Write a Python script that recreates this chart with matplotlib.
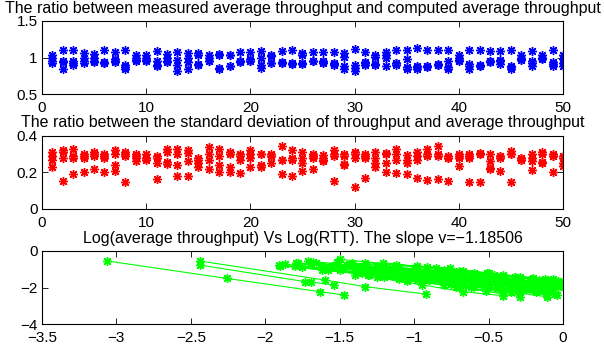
import numpy as np
import matplotlib
matplotlib.use("Agg")
import matplotlib.pyplot as plt

plt.rcParams['font.family'] = ['Liberation Sans', 'DejaVu Sans']

runs = np.arange(1, 51)

# measured / computed average throughput, 4 flows per run
ratio_avg = [
    [1.03, 1.00, 0.96, 0.93], [1.10, 0.96, 0.94, 0.85], [1.10, 0.95, 0.92, 0.90],
    [1.06, 0.99, 0.95, 0.92], [1.05, 1.00, 0.96, 0.94], [1.11, 0.94, 0.93, 0.92],
    [1.07, 0.98, 0.95, 0.94], [1.11, 0.90, 0.87, 0.84], [1.03, 1.00, 0.97, 0.95],
    [1.03, 1.00, 0.97, 0.96], [1.09, 0.95, 0.90, 0.88], [1.05, 1.00, 0.96, 0.94],
    [1.07, 0.97, 0.90, 0.82], [1.06, 0.99, 0.94, 0.85], [1.06, 1.04, 0.91, 0.90],
    [1.03, 1.00, 0.96, 0.95], [1.05, 1.04, 0.86, 0.85], [1.04, 1.03, 0.89, 0.89],
    [1.08, 0.96, 0.95, 0.94], [1.07, 0.98, 0.96, 0.95], [1.09, 1.00, 0.90, 0.86],
    [1.04, 1.02, 0.93, 0.92], [1.09, 0.94, 0.93, 0.92], [1.11, 0.92, 0.91, 0.91],
    [1.06, 1.03, 0.92, 0.91], [1.08, 0.96, 0.95, 0.95], [1.08, 0.95, 0.94, 0.93],
    [1.08, 0.92, 0.91, 0.90], [1.06, 1.01, 0.89, 0.85], [1.12, 0.90, 0.86, 0.82],
    [1.08, 0.94, 0.92, 0.90], [1.04, 1.01, 0.91, 0.90], [1.08, 1.03, 0.99, 0.89],
    [1.10, 0.93, 0.92, 0.90], [1.10, 0.98, 0.87, 0.85], [1.13, 0.88, 0.87, 0.85],
    [1.11, 0.89, 0.88, 0.87], [1.10, 0.91, 0.90, 0.90], [1.11, 0.95, 0.87, 0.85],
    [1.04, 0.99, 0.97, 0.95], [1.10, 0.91, 0.88, 0.85], [1.10, 0.90, 0.89, 0.89],
    [1.09, 0.96, 0.95, 0.94], [1.09, 0.97, 0.95, 0.91], [1.11, 0.89, 0.87, 0.85],
    [1.04, 1.00, 0.98, 0.97], [1.09, 0.96, 0.93, 0.89], [1.03, 1.00, 0.99, 0.98],
    [1.10, 0.94, 0.91, 0.89], [1.04, 0.98, 0.92, 0.89],
]

# std of throughput / average throughput
ratio_std = [
    [0.31, 0.29, 0.27, 0.23], [0.32, 0.31, 0.28, 0.155], [0.33, 0.29, 0.28, 0.19],
    [0.30, 0.29, 0.28, 0.20], [0.31, 0.30, 0.29, 0.22], [0.30, 0.29, 0.28, 0.20],
    [0.32, 0.30, 0.24, 0.21], [0.31, 0.30, 0.29, 0.15], [0.30, 0.29, 0.28, 0.26],
    [0.30, 0.28, 0.28, 0.27], [0.29, 0.28, 0.25, 0.165], [0.33, 0.31, 0.255, 0.245],
    [0.33, 0.30, 0.24, 0.18], [0.32, 0.305, 0.26, 0.18], [0.28, 0.27, 0.25, 0.23],
    [0.34, 0.30, 0.27, 0.22], [0.33, 0.29, 0.24, 0.20], [0.31, 0.30, 0.23, 0.20],
    [0.30, 0.29, 0.27, 0.195], [0.32, 0.30, 0.28, 0.23], [0.30, 0.30, 0.24, 0.23],
    [0.30, 0.29, 0.29, 0.25], [0.345, 0.27, 0.265, 0.19], [0.32, 0.28, 0.27, 0.18],
    [0.31, 0.28, 0.25, 0.21], [0.30, 0.29, 0.28, 0.22], [0.295, 0.28, 0.27, 0.26],
    [0.32, 0.30, 0.29, 0.155], [0.30, 0.29, 0.245, 0.24], [0.31, 0.30, 0.28, 0.12],
    [0.30, 0.29, 0.28, 0.17], [0.31, 0.28, 0.25, 0.23], [0.305, 0.30, 0.25, 0.20],
    [0.33, 0.30, 0.27, 0.195], [0.295, 0.27, 0.25, 0.19], [0.31, 0.29, 0.27, 0.17],
    [0.33, 0.30, 0.29, 0.16], [0.345, 0.30, 0.29, 0.165], [0.29, 0.28, 0.28, 0.155],
    [0.30, 0.28, 0.29, 0.235], [0.30, 0.28, 0.29, 0.145], [0.305, 0.30, 0.30, 0.15],
    [0.30, 0.26, 0.225, 0.22], [0.29, 0.28, 0.29, 0.21], [0.315, 0.30, 0.30, 0.145],
    [0.28, 0.27, 0.28, 0.27], [0.30, 0.28, 0.26, 0.215], [0.31, 0.30, 0.255, 0.25],
    [0.30, 0.29, 0.29, 0.20], [0.29, 0.28, 0.25, 0.235],
]

# log(RTT) and log(average throughput), one row per run (4 flows)
log_rtt = [
    [-3.06, -2.26, -1.63, -1.47], [-2.44, -1.60, -1.33, -0.92], [-2.44, -1.73, -1.69, -1.54],
    [-1.91, -1.35, -0.80, -0.10], [-1.90, -1.62, -0.95, -0.30], [-1.79, -1.10, -0.55, -0.08],
    [-1.71, -1.25, -0.70, -0.20], [-1.66, -1.05, -0.45, -0.03], [-1.50, -0.98, -0.51, -0.07],
    [-1.42, -0.91, -0.32, -0.15], [-1.33, -0.76, -0.40, -0.12], [-1.21, -0.85, -0.46, -0.21],
    [-1.12, -0.70, -0.32, -0.02], [-1.80, -1.31, -0.75, -0.29], [-1.75, -1.20, -0.60, -0.11],
    [-1.60, -1.05, -0.67, -0.29], [-1.55, -1.10, -0.50, -0.35], [-1.45, -0.95, -0.48, -0.05],
    [-1.38, -0.88, -0.38, -0.10], [-1.30, -0.82, -0.35, -0.20], [-1.25, -0.80, -0.30, -0.02],
    [-1.15, -0.72, -0.30, -0.09], [-1.05, -0.60, -0.29, -0.11], [-1.00, -0.55, -0.22, -0.08],
    [-0.98, -0.67, -0.29, -0.11], [-0.91, -0.50, -0.20, -0.03], [-1.70, -1.28, -0.67, -0.21],
    [-1.62, -1.00, -0.58, -0.15], [-1.48, -1.02, -0.53, -0.18], [-1.36, -0.90, -0.44, -0.30],
    [-1.10, -0.80, -0.52, -0.29], [-0.90, -0.62, -0.35, -0.11], [-1.25, -0.95, -0.67, -0.40],
    [-0.85, -0.50, -0.25, -0.05], [-0.70, -0.45, -0.20, 0.00], [-0.60, -0.40, -0.18, -0.08],
    [-1.52, -1.18, -0.85, -0.56], [-1.44, -1.12, -0.69, -0.32], [-1.68, -1.40, -1.02, -0.62],
    [-1.87, -1.50, -1.15, -0.75], [-0.51, -0.32, -0.16, -0.06], [-0.80, -0.55, -0.30, -0.12],
    [-0.45, -0.32, -0.18, -0.04], [-1.78, -1.22, -0.91, -0.56], [-1.32, -1.00, -0.60, -0.35],
    [-1.10, -0.75, -0.40, -0.21], [-0.95, -0.62, -0.28, -0.10], [-1.58, -1.30, -0.98, -0.70],
    [-1.40, -1.05, -0.72, -0.40], [-0.65, -0.42, -0.22, -0.07],
]
log_thr = [
    [-0.55, -1.50, -2.23, -2.41], [-0.55, -1.59, -1.95, -2.36], [-0.77, -1.68, -1.70, -1.86],
    [-0.76, -1.20, -1.62, -2.18], [-0.80, -1.05, -1.58, -2.12], [-0.68, -1.22, -1.66, -2.02],
    [-0.55, -0.92, -1.36, -1.78], [-0.68, -1.16, -1.64, -1.99], [-0.46, -0.86, -1.22, -1.55],
    [-0.64, -1.05, -1.52, -1.68], [-0.64, -0.95, -1.30, -1.56], [-0.64, -0.95, -1.30, -1.52],
    [-0.77, -1.12, -1.45, -1.70], [-0.85, -1.30, -1.82, -2.25], [-0.90, -1.40, -1.95, -2.40],
    [-1.00, -1.52, -1.88, -2.24], [-0.80, -1.20, -1.73, -1.86], [-0.78, -1.18, -1.58, -1.92],
    [-0.90, -1.35, -1.80, -2.05], [-1.05, -1.50, -1.95, -2.10], [-0.80, -1.18, -1.60, -1.82],
    [-1.00, -1.40, -1.80, -2.00], [-1.20, -1.62, -1.95, -2.12], [-0.95, -1.35, -1.65, -1.77],
    [-0.82, -1.10, -1.45, -1.60], [-0.86, -1.22, -1.50, -1.65], [-0.72, -1.08, -1.58, -1.95],
    [-0.88, -1.40, -1.75, -2.12], [-0.95, -1.38, -1.82, -2.15], [-1.15, -1.60, -2.05, -2.20],
    [-1.55, -1.85, -2.20, -2.50], [-1.60, -1.95, -2.25, -2.50], [-1.45, -1.85, -2.23, -2.45],
    [-1.40, -1.80, -2.10, -2.35], [-1.30, -1.62, -1.90, -1.99], [-1.20, -1.45, -1.70, -1.82],
    [-0.60, -0.92, -1.25, -1.50], [-0.72, -1.02, -1.42, -1.78], [-0.62, -0.88, -1.22, -1.58],
    [-0.72, -1.05, -1.35, -1.70], [-1.19, -1.40, -1.58, -1.72], [-1.05, -1.35, -1.62, -1.85],
    [-1.65, -1.90, -2.25, -2.40], [-0.66, -1.08, -1.35, -1.65], [-0.82, -1.10, -1.45, -1.70],
    [-0.90, -1.22, -1.55, -1.72], [-1.30, -1.62, -1.95, -2.20], [-1.02, -1.30, -1.60, -1.88],
    [-1.30, -1.62, -1.95, -2.25], [-1.50, -1.80, -2.05, -2.25],
]

titles = [
    "The ratio between measured average throughput and computed average throughput",
    "The ratio between the standard deviation of throughput and average throughput",
    "Log(average throughput) Vs Log(RTT). The slope v=\u22121.18506",
]

star = (8, 2, 0)  # MATLAB-like asterisk
title_fs = 11.5
tick_fs = 11

fig = plt.figure(figsize=(6.04, 3.5), dpi=100)
left, width, height = 0.0695, 0.8625, 0.209
ax1 = fig.add_axes([left, 0.731, width, height])
ax2 = fig.add_axes([left, 0.403, width, height])
ax3 = fig.add_axes([left, 0.074, width, height])

ax1.plot(runs, np.array(ratio_avg), linestyle='none', marker=star, color='b',
         markersize=6.5, markeredgewidth=1.0)
ax1.set_xlim(0, 50)
ax1.set_ylim(0.5, 1.5)
ax1.set_xticks([0, 10, 20, 30, 40, 50])
ax1.set_yticks([0.5, 1, 1.5])
ax1.set_yticklabels(["0.5", "1", "1.5"])

ax2.plot(runs, np.array(ratio_std), linestyle='none', marker=star, color='r',
         markersize=6.5, markeredgewidth=1.0)
ax2.set_xlim(0, 50)
ax2.set_ylim(0, 0.4)
ax2.set_xticks([0, 10, 20, 30, 40, 50])
ax2.set_yticks([0, 0.2, 0.4])
ax2.set_yticklabels(["0", "0.2", "0.4"])

for xs, ys in zip(log_rtt, log_thr):
    ax3.plot(xs, ys, '-', marker=star, color=(0, 1, 0), linewidth=0.8,
             markersize=6.5, markeredgewidth=1.0)
ax3.set_xlim(-3.5, 0)
ax3.set_ylim(-4, 0)
ax3.set_xticks(np.arange(-3.5, 0.01, 0.5))
ax3.set_xticklabels(["\u22123.5", "\u22123", "\u22122.5", "\u22122", "\u22121.5",
                     "\u22121", "\u22120.5", "0"])
ax3.set_yticks([-4, -2, 0])
ax3.set_yticklabels(["\u22124", "\u22122", "0"])

for ax, t in zip([ax1, ax2, ax3], titles):
    ax.set_title(t, fontsize=title_fs, pad=6)
    ax.tick_params(direction='in', length=4, width=0.6, top=True, right=True,
                   labelsize=tick_fs)
    ax.tick_params(axis='x', pad=5)
    ax.tick_params(axis='y', pad=3)
    for s in ax.spines.values():
        s.set_linewidth(0.8)

fig.savefig("out.png", dpi=100)
